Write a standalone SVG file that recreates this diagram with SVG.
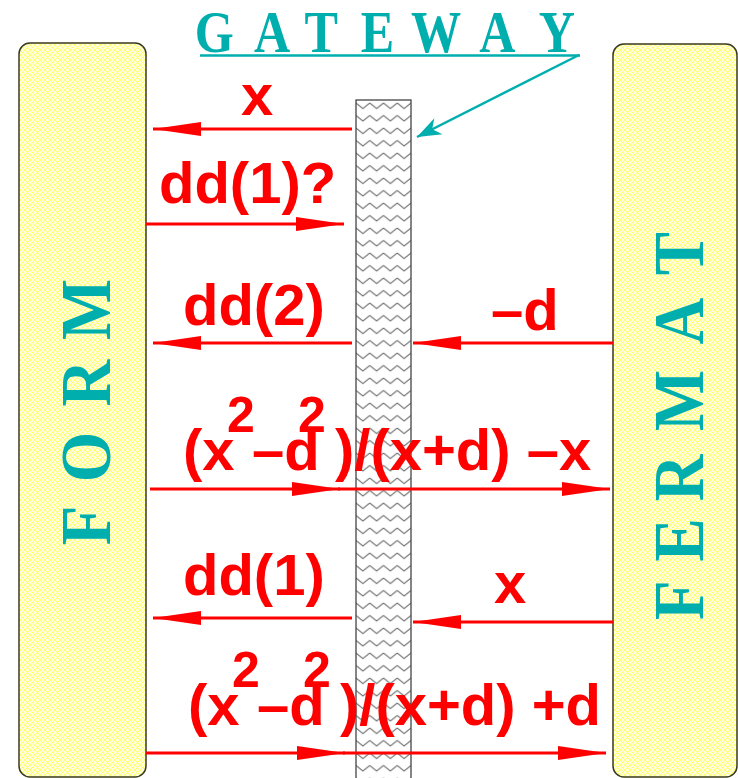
<svg xmlns="http://www.w3.org/2000/svg" width="738" height="778" viewBox="0 0 738 778">
<defs>
<pattern id="hatch" patternUnits="userSpaceOnUse" width="5" height="5">
<rect width="5" height="5" fill="#ffffdc"/>
<path d="M0,0 L5,5 M5,0 L0,5" stroke="#ffff48" stroke-width="0.7"/>
</pattern>
<pattern id="zig" patternUnits="userSpaceOnUse" x="356" y="100" width="13.75" height="12.5">
<rect width="13.75" height="12.5" fill="#ffffff"/>
<path d="M0,3 L6.875,8.5 L13.75,3" fill="none" stroke="#555" stroke-width="1"/>
</pattern>
<marker id="ah" markerUnits="userSpaceOnUse" markerWidth="50" markerHeight="16" refX="48" refY="7" orient="auto">
<path d="M0,0 L48,7 L0,14 z" fill="#ff0000"/>
</marker>
<marker id="th" markerUnits="userSpaceOnUse" markerWidth="28" markerHeight="22" refX="24" refY="10" orient="auto">
<path d="M0,1 L24,10 L0,19 L7,10 z" fill="#00aeae"/>
</marker>
</defs>
<style>
.box{fill:url(#hatch);stroke:#3a3a20;stroke-width:1.5}
.vt{font-family:"Liberation Serif","Times New Roman",serif;font-weight:bold;font-size:72px;fill:#00aeae}
.lbl{font-family:"Liberation Sans",Arial,sans-serif;font-weight:bold;font-size:58px;fill:#ff0000}
.sup{font-size:50px}
.ar{stroke:#ff0000;stroke-width:3;fill:none;marker-end:url(#ah)}
</style>
<g id="form">
<rect class="box" x="19" y="43" width="127" height="734" rx="11"/>
<text class="vt" transform="translate(110,547) rotate(-90) scale(0.9,1)" text-anchor="middle" x="24 100 182 264" y="0">FORM</text>
</g>
<g id="fermat">
<rect class="box" x="613" y="44" width="124" height="733" rx="11"/>
<text class="vt" transform="translate(703,620) rotate(-90) scale(0.9,1)" text-anchor="middle" x="22 89 158 244 332 407" y="0">FERMAT</text>
</g>
<g id="gateway">
<rect x="356" y="100" width="55" height="680" fill="url(#zig)" stroke="#444" stroke-width="1.3"/>
<text transform="translate(0,52) scale(0.85,1)" font-family="Liberation Serif,'Times New Roman',serif" font-weight="bold" font-size="59" fill="#00aeae" text-anchor="middle" x="252 320 378 444 513 585 655" y="0">GATEWAY</text>
<line x1="200" y1="55.5" x2="580" y2="55.5" stroke="#00aeae" stroke-width="2.5"/>
</g>
<g id="connectors">
<line x1="579" y1="55" x2="417" y2="137" stroke="#00aeae" stroke-width="2.5" marker-end="url(#th)"/>
<line class="ar" x1="352" y1="129" x2="153" y2="129"/>
<line class="ar" x1="146" y1="224" x2="344" y2="224"/>
<line class="ar" x1="352" y1="343" x2="153" y2="343"/>
<line class="ar" x1="613" y1="343" x2="413" y2="343"/>
<line class="ar" x1="150" y1="489" x2="340" y2="489"/>
<line class="ar" x1="338" y1="489" x2="610" y2="489"/>
<line class="ar" x1="352" y1="618" x2="153" y2="618"/>
<line class="ar" x1="613" y1="622" x2="413" y2="622"/>
<line class="ar" x1="146" y1="753" x2="345" y2="753"/>
<line class="ar" x1="343" y1="753" x2="606" y2="753"/>
</g>
<g id="labels">
<text class="lbl" x="241" y="115">x</text>
<text class="lbl" x="159" y="203">dd(1)?</text>
<text class="lbl" x="183" y="325">dd(2)</text>
<text class="lbl" x="491" y="330">–d</text>
<text class="lbl" x="183" y="470">(x<tspan class="sup" x="227" y="432">2</tspan><tspan x="252" y="470">–d</tspan><tspan class="sup" x="298" y="432">2</tspan><tspan x="335" y="470">)/(x+d) –x</tspan></text>
<text class="lbl" x="183" y="595">dd(1)</text>
<text class="lbl" x="494" y="603">x</text>
<text class="lbl" x="188" y="725">(x<tspan class="sup" x="232" y="687">2</tspan><tspan x="257" y="725">–d</tspan><tspan class="sup" x="303" y="687">2</tspan><tspan x="340" y="725">)/(x+d) +d</tspan></text>
</g>
</svg>
